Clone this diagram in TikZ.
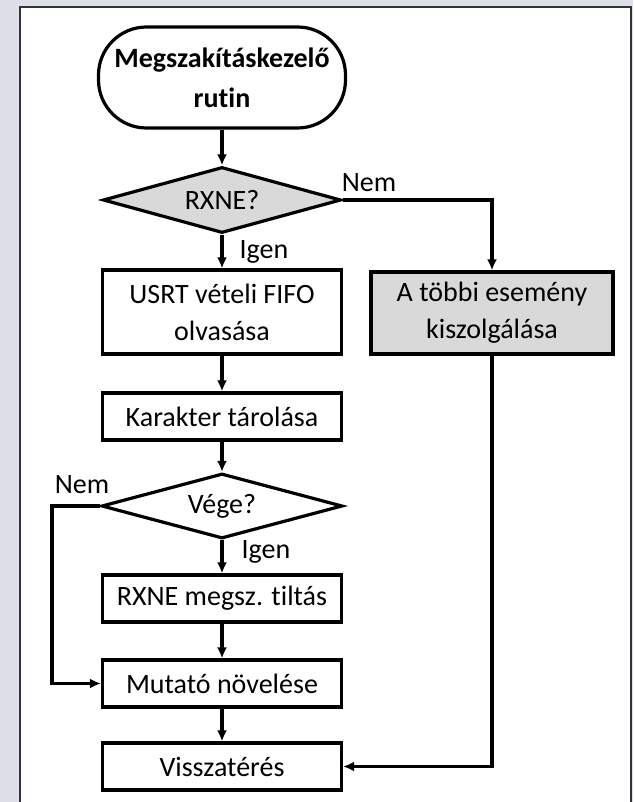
\documentclass[tikz,border=0pt]{standalone}
\usepackage{fontspec}
\setmainfont{Carlito}[Ligatures=NoCommon]
\usetikzlibrary{shapes.geometric,arrows.meta}

\begin{document}
\begin{tikzpicture}[x=1pt,y=-1pt,>={Latex[length=11pt,width=10pt]},
    line width=3.2pt,
    box/.style={draw, rectangle, inner sep=0pt, minimum width=239pt, minimum height=47pt,
        align=center, font=\fontsize{28}{37}\selectfont},
    decision/.style={draw, diamond, aspect=3.5, inner sep=1pt, minimum width=238pt,
        minimum height=66pt, fill=black!15, font=\fontsize{28}{37}\selectfont},
    lbl/.style={font=\fontsize{28}{32}\selectfont}]

    % Színek
    \definecolor{hatter}{RGB}{220,222,232}
    \colorlet{szurke}{black!15}

    % Háttér és keret
    \useasboundingbox (0,0) rectangle (633,802);
    \fill[hatter] (0,0) rectangle (633,802);
    \fill[white] (20,7) rectangle (631,802);
    \draw[line width=1.5pt, black!80] (20,802) -- (20,7) -- (631,7) -- (631,802);

    % 1. Kezdőpont
    \node[draw, rectangle, rounded corners=48pt, minimum width=247pt, minimum height=101pt,
        inner sep=0pt, align=center, font=\bfseries\fontsize{28}{40}\selectfont]
        (start) at (222,77.5) {Megszakításkezelő\\rutin};

    % 2. Döntések
    \node[decision] (rxne) at (222,200) {RXNE?};
    \node[decision, fill=white, minimum width=241pt, minimum height=65pt] (vege) at (222,506) {Vége?};

    % 3. Dobozok (bal oszlop)
    \node[box, minimum height=84pt] (usrt) at (222,312) {USRT vételi FIFO\\olvasása};
    \node[box] (kar) at (222,416.5) {Karakter tárolása};
    \node[box] (tilt) at (222,598.5) {RXNE megsz. tiltás};
    \node[box] (mut) at (222,683.5) {Mutató növelése};
    \node[box] (ret) at (222,766.5) {Visszatérés};

    % Jobb oszlop
    \node[box, fill=szurke, minimum width=242pt, minimum height=82pt] (other) at (492,313)
        {A többi esemény\\kiszolgálása};

    % 4. Nyilak
    \draw[->] (start) -- (rxne);
    \draw[->] (rxne) -- (usrt);
    \draw[->] (rxne.east) -| (other);
    \draw[->] (usrt) -- (kar);
    \draw[->] (kar) -- (vege);
    \draw[->] (vege) -- (tilt);
    \draw[->] (tilt) -- (mut);
    \draw[->] (mut) -- (ret);
    \coordinate (nemL) at (52,506);
    \draw[->] (vege.west) -- (nemL) |- (mut.west);
    \draw[->] (other) |- (ret.east);

    % 5. Feliratok
    \node[lbl] (nem1) at (369,183) {Nem};
    \node[lbl] (igen1) at (264,252) {Igen};
    \node[lbl] (nem2) at (82,485) {Nem};
    \node[lbl] (igen2) at (266,552) {Igen};

\end{tikzpicture}
\end{document}
